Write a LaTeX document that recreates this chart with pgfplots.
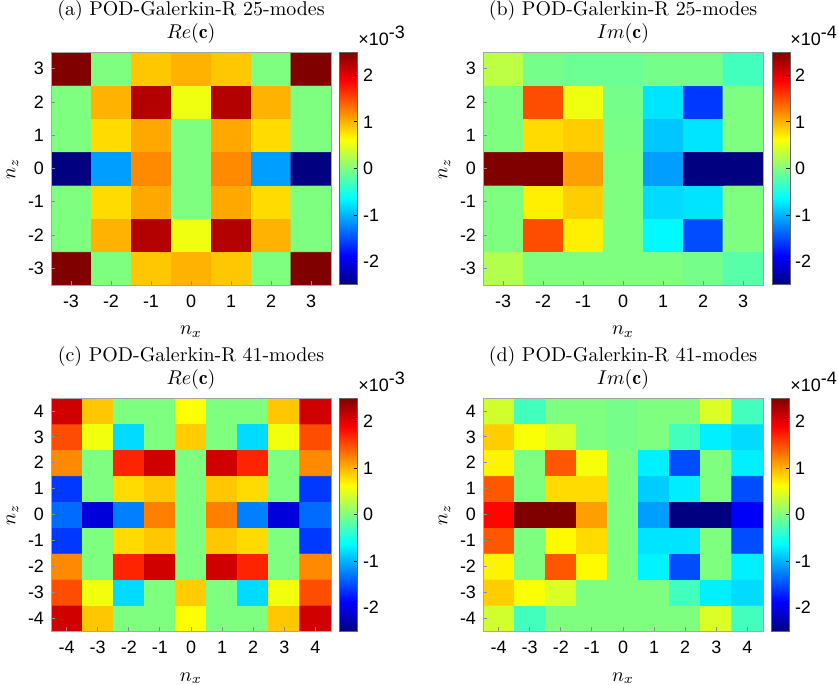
\documentclass[border=0pt]{standalone}
\usepackage{fontspec}
\usepackage{pgfplots}
\pgfplotsset{compat=1.18}
\newfontfamily\helv{Liberation Sans}

\pgfplotstableread{
x y c
-3 -3 2.5
-2 -3 0
-1 -3 0.9
0 -3 1.0
1 -3 0.9
2 -3 0
3 -3 2.5
-3 -2 0
-2 -2 1.0
-1 -2 2.25
0 -2 0.55
1 -2 2.25
2 -2 1.0
3 -2 0
-3 -1 0
-2 -1 0.8
-1 -1 1.05
0 -1 0
1 -1 1.05
2 -1 0.8
3 -1 0
-3 0 -2.5
-2 0 -1.1
-1 0 1.2
0 0 0
1 0 1.2
2 0 -1.1
3 0 -2.5
-3 1 0
-2 1 0.8
-1 1 1.05
0 1 0
1 1 1.05
2 1 0.8
3 1 0
-3 2 0
-2 2 1.0
-1 2 2.25
0 2 0.55
1 2 2.25
2 2 1.0
3 2 0
-3 3 2.5
-2 3 0
-1 3 0.9
0 3 1.0
1 3 0.9
2 3 0
3 3 2.5
}\tableA

\pgfplotstableread{
x y c
-3 -3 0.25
-2 -3 0
-1 -3 0
0 -3 0
1 -3 0
2 -3 -0.05
3 -3 -0.2
-3 -2 0
-2 -2 1.5
-1 -2 0.7
0 -2 0
1 -2 -0.65
2 -2 -1.5
3 -2 0
-3 -1 0
-2 -1 0.7
-1 -1 0.87
0 -1 0
1 -1 -0.8
2 -1 -0.75
3 -1 0
-3 0 2.5
-2 0 2.5
-1 0 1.1
0 0 0
1 0 -1.1
2 0 -2.5
3 0 -2.5
-3 1 0
-2 1 0.8
-1 1 0.87
0 1 -0.03
1 1 -0.9
2 1 -0.75
3 1 0
-3 2 0
-2 2 1.5
-1 2 0.55
0 2 -0.05
1 2 -0.75
2 2 -1.6
3 2 0
-3 3 0.3
-2 3 -0.05
-1 3 -0.1
0 3 -0.1
1 3 -0.05
2 3 -0.05
3 3 -0.3
}\tableB

\pgfplotstableread{
x y c
-4 -4 2.1
-3 -4 0.9
-2 -4 0
-1 -4 0
0 -4 0.62
1 -4 0
2 -4 0
3 -4 0.9
4 -4 2.1
-4 -3 1.5
-3 -3 0.56
-2 -3 -0.8
-1 -3 0
0 -3 0.87
1 -3 0
2 -3 -0.8
3 -3 0.56
4 -3 1.5
-4 -2 1.2
-3 -2 0
-2 -2 1.7
-1 -2 2.1
0 -2 0
1 -2 2.1
2 -2 1.7
3 -2 0
4 -2 1.2
-4 -1 -1.6
-3 -1 0
-2 -1 0.8
-1 -1 0.9
0 -1 0
1 -1 0.9
2 -1 0.8
3 -1 0
4 -1 -1.6
-4 0 -1.35
-3 0 -2.05
-2 0 -1.25
-1 0 1.25
0 0 0
1 0 1.25
2 0 -1.25
3 0 -2.05
4 0 -1.35
-4 1 -1.6
-3 1 0
-2 1 0.8
-1 1 0.9
0 1 0
1 1 0.9
2 1 0.8
3 1 0
4 1 -1.6
-4 2 1.2
-3 2 0
-2 2 1.7
-1 2 2.1
0 2 0
1 2 2.1
2 2 1.7
3 2 0
4 2 1.2
-4 3 1.5
-3 3 0.56
-2 3 -0.8
-1 3 0
0 3 0.87
1 3 0
2 3 -0.8
3 3 0.56
4 3 1.5
-4 4 2.1
-3 4 0.9
-2 4 0
-1 4 0
0 4 0.62
1 4 0
2 4 0
3 4 0.9
4 4 2.1
}\tableC

\pgfplotstableread{
x y c
-4 -4 0.4
-3 -4 -0.3
-2 -4 0
-1 -4 0
0 -4 0
1 -4 0
2 -4 0
3 -4 0.45
4 -4 -0.3
-4 -3 0.87
-3 -3 0.6
-2 -3 0.45
-1 -3 0
0 -3 0
1 -3 0
2 -3 -0.3
3 -3 -0.7
4 -3 -0.8
-4 -2 0.68
-3 -2 0
-2 -2 1.45
-1 -2 0.65
0 -2 0
1 -2 -0.68
2 -2 -1.5
3 -2 0
4 -2 -0.7
-4 -1 1.45
-3 -1 0
-2 -1 0.65
-1 -1 0.8
0 -1 0
1 -1 -0.75
2 -1 -0.75
3 -1 0
4 -1 -1.5
-4 0 1.85
-3 0 2.5
-2 0 2.5
-1 0 1.1
0 0 0
1 0 -1.1
2 0 -2.5
3 0 -2.5
4 0 -1.9
-4 1 1.45
-3 1 0
-2 1 0.8
-1 1 0.8
0 1 0
1 1 -0.87
2 1 -0.72
3 1 0
4 1 -1.5
-4 2 0.68
-3 2 0
-2 2 1.45
-1 2 0.58
0 2 0
1 2 -0.7
2 2 -1.5
3 2 0
4 2 -0.7
-4 3 0.87
-3 3 0.6
-2 3 0.45
-1 3 0
0 3 -0.05
1 3 0
2 3 -0.3
3 3 -0.7
4 3 -0.8
-4 4 0.4
-3 4 -0.3
-2 4 0
-1 4 0
0 4 -0.05
1 4 0
2 4 0
3 4 0.45
4 4 -0.3
}\tableD

\pgfplotsset{
  hm/.style={
    scale only axis, width=140bp, height=116.5bp,
    anchor=north west,
    enlargelimits=false,
    axis on top,
    colormap/jet,
    point meta min=-2.5, point meta max=2.5,
    axis line style={draw=black!35, line width=0.4pt},
    tick style={draw=black!45, line width=0.4pt},
    tick align=inside,
    major tick length=2bp,
    xtick pos=bottom, ytick pos=left,
    ticklabel style={font=\helv\fontsize{9}{10}\selectfont},
    xticklabel style={yshift=-1.5bp},
    /pgf/number format/assume math mode=true,
    title style={align=center, font=\fontsize{10}{11.5}\selectfont, yshift=-5bp},
    xlabel={$n_x$}, ylabel={$n_z$},
    label style={font=\fontsize{10}{12}\selectfont},
    xlabel style={yshift=-2.5bp},
    ylabel style={yshift=-2bp},
    colorbar,
    colorbar shift/.style={xshift=4.5bp},
    colorbar style={
      at={(parent axis.north east)}, anchor=north west,
      width=9bp,
      ytick={-2,-1,0,1,2},
      ytick pos=right, yticklabel pos=right,
      tick align=inside,
      major tick length=2bp,
      tick style={draw=black, line width=0.4pt},
      axis line style={draw=black!60, line width=0.5pt},
      yticklabel style={font=\helv\fontsize{9}{10}\selectfont, xshift=-1bp},
      /pgf/number format/assume math mode=true,
    },
  },
}

\begin{document}
\begin{tikzpicture}
\path[use as bounding box] (0,0) rectangle (419bp,-342.5bp);

\begin{axis}[hm, at={(25.5bp,-26bp)},
  title={(a) POD-Galerkin-R 25-modes\\$Re(\mathbf{c})$},
  xmin=-3.5, xmax=3.5, ymin=-3.5, ymax=3.5,
  xtick={-3,...,3}, ytick={-3,...,3},
  colorbar style={after end axis/.code={\node[anchor=south west, inner sep=0pt, font=\helv\fontsize{9}{10}\selectfont] at ([yshift=3bp]rel axis cs:1,1) {×10\raisebox{3.5bp}{-3}};}}]
\addplot[matrix plot*, mesh/cols=7, point meta=explicit] table[meta=c] {\tableA};
\end{axis}

\begin{axis}[hm, at={(241.5bp,-26bp)},
  title={(b) POD-Galerkin-R 25-modes\\$Im(\mathbf{c})$},
  xmin=-3.5, xmax=3.5, ymin=-3.5, ymax=3.5,
  xtick={-3,...,3}, ytick={-3,...,3},
  colorbar style={after end axis/.code={\node[anchor=south west, inner sep=0pt, font=\helv\fontsize{9}{10}\selectfont] at ([yshift=3bp]rel axis cs:1,1) {×10\raisebox{3.5bp}{-4}};}}]
\addplot[matrix plot*, mesh/cols=7, point meta=explicit] table[meta=c] {\tableB};
\end{axis}

\begin{axis}[hm, at={(25.5bp,-199bp)},
  title={(c) POD-Galerkin-R 41-modes\\$Re(\mathbf{c})$},
  xmin=-4.5, xmax=4.5, ymin=-4.5, ymax=4.5,
  xtick={-4,...,4}, ytick={-4,...,4},
  colorbar style={after end axis/.code={\node[anchor=south west, inner sep=0pt, font=\helv\fontsize{9}{10}\selectfont] at ([yshift=3bp]rel axis cs:1,1) {×10\raisebox{3.5bp}{-3}};}}]
\addplot[matrix plot*, mesh/cols=9, point meta=explicit] table[meta=c] {\tableC};
\end{axis}

\begin{axis}[hm, at={(241.5bp,-199bp)},
  title={(d) POD-Galerkin-R 41-modes\\$Im(\mathbf{c})$},
  xmin=-4.5, xmax=4.5, ymin=-4.5, ymax=4.5,
  xtick={-4,...,4}, ytick={-4,...,4},
  colorbar style={after end axis/.code={\node[anchor=south west, inner sep=0pt, font=\helv\fontsize{9}{10}\selectfont] at ([yshift=3bp]rel axis cs:1,1) {×10\raisebox{3.5bp}{-4}};}}]
\addplot[matrix plot*, mesh/cols=9, point meta=explicit] table[meta=c] {\tableD};
\end{axis}
\end{tikzpicture}
\end{document}
